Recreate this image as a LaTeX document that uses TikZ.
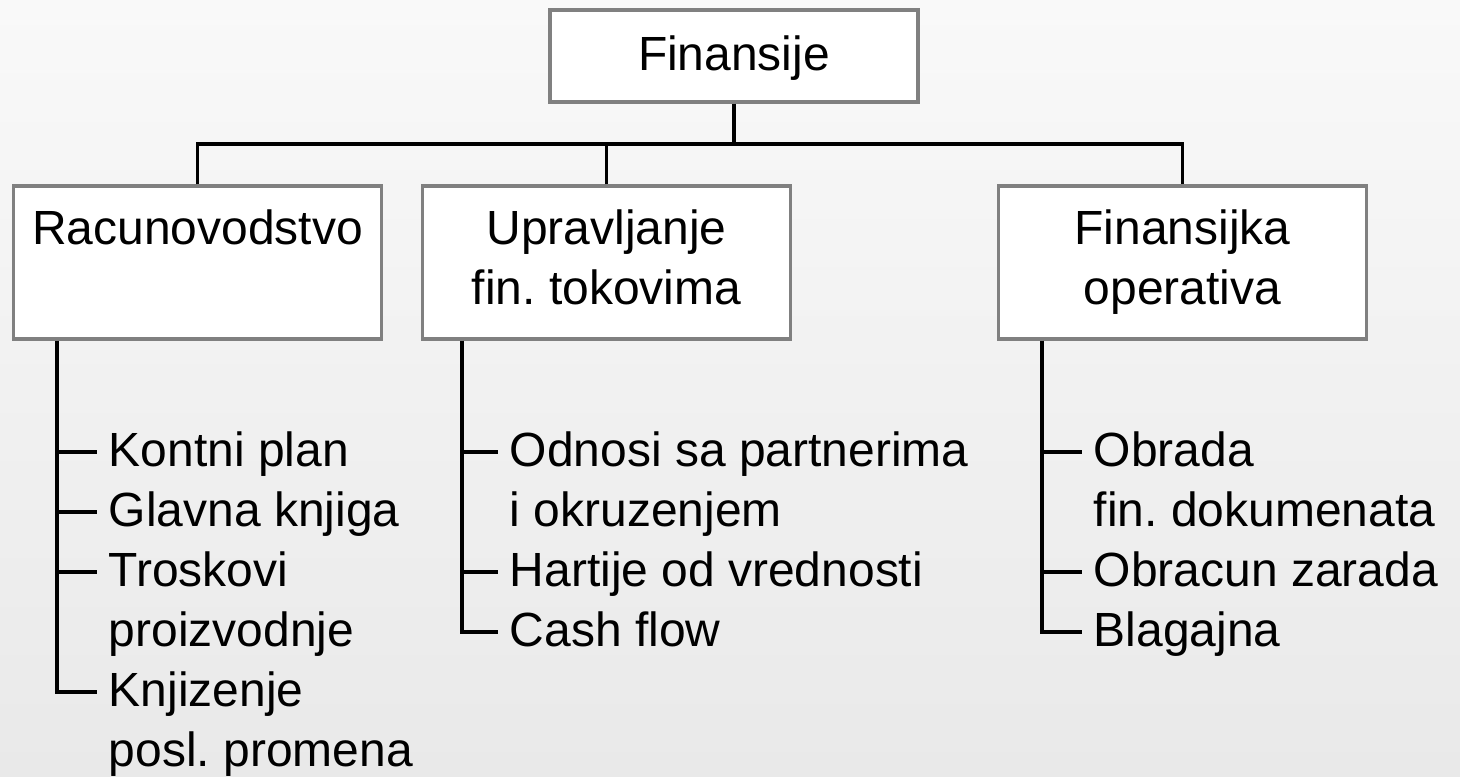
\documentclass[tikz,border=0pt]{standalone}
\usepackage{fontspec}
\setmainfont{Liberation Sans}
\frenchspacing

\definecolor{bgtop}{RGB}{249,249,249}
\definecolor{bgbot}{RGB}{233,233,233}
\definecolor{boxgray}{RGB}{128,128,128}

\begin{document}
\begin{tikzpicture}[
  txt/.style={font=\fontsize{27.3}{34.14}\selectfont\frenchspacing},
  box/.style={txt,draw=boxgray,line width=1.9pt,fill=white,minimum width=7.36cm,inner sep=0pt,align=center},
  item/.style={txt,anchor=west,inner xsep=6.5pt,inner ysep=0pt,text height=20pt,text depth=3pt},
  conn/.style={black,line width=1.9pt}
]
\useasboundingbox (0,0) rectangle (29.2,15.52);
\shade[top color=bgtop,bottom color=bgbot] (0,0) rectangle (29.2,15.52);

% top
\node[box,minimum height=1.84cm,text height=20pt,text depth=3pt] (fin) at (14.68,14.40) {Finansije};

% second row
\node[box,minimum height=3.06cm] (racun) at (3.95,10.27) {\strut Racunovodstvo\\\strut};
\node[box,minimum height=3.06cm] (uprav) at (12.13,10.27) {\strut Upravljanje\\fin. tokovima\strut};
\node[box,minimum height=3.06cm] (opera) at (23.65,10.27) {\strut Finansijka\\operativa\strut};

\coordinate (bus) at (14.68,12.64);
\draw[conn] (fin.south) -- (bus);
\draw[conn] (racun.north) |- (bus) -| (opera.north);
\draw[conn] (uprav.north) -- (uprav.north |- bus);

% Racunovodstvo %%%%%%%%%%%%%%%%%%%%%%%%%%%%%%%%%%%%%%%%%%%%%%%%%%%%%%%
\coordinate (rtrunk) at (1.14,0);
\node[item] (kontni)   at (1.94,6.48) {Kontni plan};
\node[item] (glavna)   at (1.94,5.28) {Glavna knjiga};
\node[item] (troskovi) at (1.94,4.08) {Troskovi};
\node[item] (proizv)   at (1.94,2.88) {proizvodnje};
\node[item] (knjiz)    at (1.94,1.68) {Knjizenje};
\node[item] (posl)     at (1.94,0.48) {posl. promena};

\draw[conn] (racun.south -| rtrunk) |- (knjiz.west);
\draw[conn] (rtrunk |- kontni.west) -- (kontni.west);
\draw[conn] (rtrunk |- glavna.west) -- (glavna.west);
\draw[conn] (rtrunk |- troskovi.west) -- (troskovi.west);

% Upravljanje %%%%%%%%%%%%%%%%%%%%%%%%%%%%%%%%%%%%%%%%%%%%%%%%%%%%%%%%%
\coordinate (utrunk) at (9.24,0);
\node[item] (odnosi)  at (9.96,6.48) {Odnosi sa partnerima};
\node[item] (okruz)   at (9.96,5.28) {i okruzenjem};
\node[item] (hartije) at (9.96,4.08) {Hartije od vrednosti};
\node[item] (cash)    at (9.96,2.88) {Cash flow};

\draw[conn] (uprav.south -| utrunk) |- (cash.west);
\draw[conn] (utrunk |- odnosi.west) -- (odnosi.west);
\draw[conn] (utrunk |- hartije.west) -- (hartije.west);

% operativa %%%%%%%%%%%%%%%%%%%%%%%%%%%%%%%%%%%%%%%%%%%%%%%%%%%%%%%%%%%
\coordinate (otrunk) at (20.84,0);
\node[item] (obrada)   at (21.64,6.48) {Obrada};
\node[item] (dokum)    at (21.64,5.28) {fin. dokumenata};
\node[item] (obracun)  at (21.64,4.08) {Obracun zarada};
\node[item] (blagajna) at (21.64,2.88) {Blagajna};

\draw[conn] (opera.south -| otrunk) |- (blagajna.west);
\draw[conn] (otrunk |- obrada.west) -- (obrada.west);
\draw[conn] (otrunk |- obracun.west) -- (obracun.west);

\end{tikzpicture}
\end{document}
